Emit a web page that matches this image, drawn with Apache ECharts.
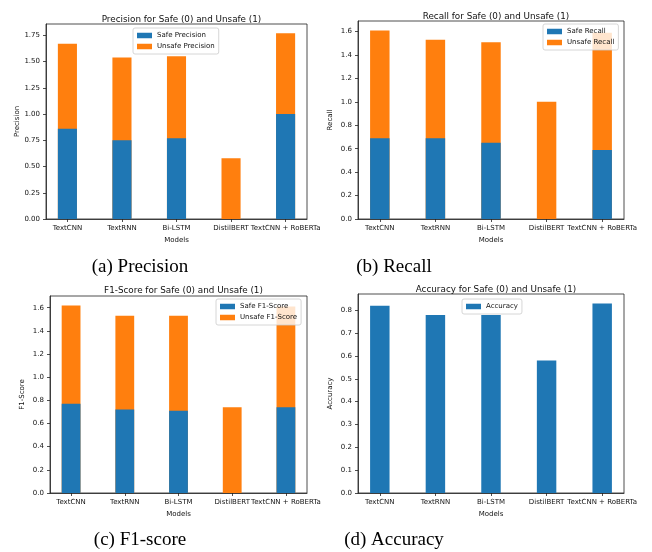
<!DOCTYPE html>
<html><head><meta charset="utf-8">
<script src="https://cdn.jsdelivr.net/npm/echarts@6/dist/echarts.min.js"></script>
<style>html,body{margin:0;padding:0;background:#fff}#c{width:652px;height:552px}</style>
</head><body><div id="c"></div>
<script>
const models = ['TextCNN', 'TextRNN', 'Bi-LSTM', 'DistilBERT', 'TextCNN + RoBERTa'];
const safePrecision = [0.86, 0.75, 0.77, 0.00, 1.00];
const unsafePrecision = [0.81, 0.79, 0.78, 0.58, 0.77];
const safeRecall = [0.69, 0.69, 0.65, 0.00, 0.59];
const unsafeRecall = [0.92, 0.84, 0.86, 1.00, 1.00];
const safeF1 = [0.77, 0.72, 0.71, 0.00, 0.74];
const unsafeF1 = [0.85, 0.81, 0.82, 0.74, 0.87];
const accuracy = [0.82, 0.78, 0.78, 0.58, 0.83];
const precisionTicks = [0, 0.25, 0.5, 0.75, 1.0, 1.25, 1.5, 1.75];
const recallTicks = [0, 0.2, 0.4, 0.6, 0.8, 1.0, 1.2, 1.4, 1.6];
const f1Ticks = [0, 0.2, 0.4, 0.6, 0.8, 1.0, 1.2, 1.4, 1.6];
const accTicks = [0, 0.1, 0.2, 0.3, 0.4, 0.5, 0.6, 0.7, 0.8];

const BLUE = '#1f77b4', ORANGE = '#ff7f0e';
const FONT = 'DejaVu Sans';
const TICKFS = 7;

function pairs(arr) { return arr.map((v, i) => [i, v]); }
function sums(a, b) { return a.map((v, i) => v + (b ? b[i] : 0)); }

const panels = [
  { grid: {left: 46, top: 24, width: 261, height: 195}, title: 'Precision for Safe (0) and Unsafe (1)', titleTop: 10,
    yName: 'Precision', ticks: precisionTicks, dec: 2, s1: safePrecision, s2: unsafePrecision,
    n1: 'Safe Precision', n2: 'Unsafe Precision', legend: {left: 133, top: 28}, caption: '(a) Precision', cx: 135, cy: 253 },
  { grid: {left: 358, top: 21, width: 266, height: 198}, title: 'Recall for Safe (0) and Unsafe (1)', titleTop: 7,
    yName: 'Recall', ticks: recallTicks, dec: 1, s1: safeRecall, s2: unsafeRecall,
    n1: 'Safe Recall', n2: 'Unsafe Recall', legend: {left: 543, top: 24}, caption: '(b) Recall', cx: 389, cy: 253 },
  { grid: {left: 50, top: 296, width: 257, height: 197}, title: 'F1-Score for Safe (0) and Unsafe (1)', titleTop: 281,
    yName: 'F1-Score', ticks: f1Ticks, dec: 1, s1: safeF1, s2: unsafeF1,
    n1: 'Safe F1-Score', n2: 'Unsafe F1-Score', legend: {left: 216, top: 299}, caption: '(c) F1-score', cx: 135, cy: 526 },
  { grid: {left: 358, top: 294, width: 266, height: 199}, title: 'Accuracy for Safe (0) and Unsafe (1)', titleTop: 280,
    yName: 'Accuracy', ticks: accTicks, dec: 1, s1: accuracy, s2: null,
    n1: 'Accuracy', n2: null, legend: {left: 462, top: 299}, caption: '(d) Accuracy', cx: 389, cy: 526 }
];

const option = { animation: false, backgroundColor: '#fff', textStyle: {fontFamily: FONT},
  title: [], grid: [], xAxis: [], yAxis: [], series: [], legend: [] };

panels.forEach((p, k) => {
  option.grid.push(Object.assign({ show: true, borderColor: '#222', borderWidth: 0.8, containLabel: false }, p.grid));
  option.title.push({ text: p.title, left: p.grid.left + p.grid.width / 2, top: p.titleTop, textAlign: 'center',
    textStyle: {fontFamily: FONT, fontSize: 8.8, fontWeight: 'normal', color: '#111'} });
  option.title.push({ text: p.caption, left: p.cx, top: p.cy, textAlign: 'center',
    textStyle: {fontFamily: 'Liberation Serif', fontSize: 19, fontWeight: 'normal', color: '#000'} });
  const xmin = -0.175 - 0.05 * 4.35, xmax = 4.175 + 0.05 * 4.35;
  option.xAxis.push({ type: 'value', gridIndex: k, min: xmin, max: xmax,
    name: 'Models', nameLocation: 'middle', nameGap: 18,
    nameTextStyle: {fontFamily: FONT, fontSize: TICKFS, color: '#111'},
    axisLine: {show: true, onZero: false, lineStyle: {color: '#222', width: 0.8}},
    axisTick: {show: true, length: 3, lineStyle: {color: '#222', width: 0.8}, customValues: [0, 1, 2, 3, 4]},
    axisLabel: {customValues: [0, 1, 2, 3, 4], fontFamily: FONT, fontSize: TICKFS, color: '#111', margin: 6,
      formatter: v => models[Math.round(v)]},
    splitLine: {show: false} });
  const totals = sums(p.s1, p.s2);
  const ymax = Math.max(...totals) * 1.05;
  option.yAxis.push({ type: 'value', gridIndex: k, min: 0, max: ymax,
    name: p.yName, nameLocation: 'middle', nameGap: 24,
    nameTextStyle: {fontFamily: FONT, fontSize: TICKFS, color: '#111'},
    axisLine: {show: true, onZero: false, lineStyle: {color: '#222', width: 0.8}},
    axisTick: {show: true, length: 3, lineStyle: {color: '#222', width: 0.8}, customValues: p.ticks},
    axisLabel: {customValues: p.ticks, fontFamily: FONT, fontSize: TICKFS, color: '#111', margin: 6,
      formatter: v => v.toFixed(p.dec)},
    splitLine: {show: false} });
  const bw = 0.35 * p.grid.width / (xmax - xmin);
  const legendData = [p.n1];
  if (p.s2) {
    // unsafe part stacked on top of safe: drawn as bar up to the total, safe bar drawn over it
    option.series.push({ type: 'bar', name: p.n2, xAxisIndex: k, yAxisIndex: k,
      barWidth: bw, barGap: '-100%', data: pairs(totals), itemStyle: {color: ORANGE}, z: 2 });
    legendData.push(p.n2);
  }
  option.series.push({ type: 'bar', name: p.n1, xAxisIndex: k, yAxisIndex: k,
    barWidth: bw, barGap: '-100%', data: pairs(p.s1), itemStyle: {color: BLUE}, z: 3 });
  option.legend.push(Object.assign({ data: legendData.map(n => ({name: n, icon: 'rect'})), orient: 'vertical',
    itemWidth: 15, itemHeight: 5.5, itemGap: 4, padding: [4, 4, 4, 4],
    backgroundColor: 'rgba(255,255,255,0.8)', borderColor: '#cccccc', borderWidth: 0.8, borderRadius: 2,
    textStyle: {fontFamily: FONT, fontSize: TICKFS, color: '#111'}, selectedMode: false, z: 10 }, p.legend));
});

const chart = echarts.init(document.getElementById('c'), null, {renderer: 'canvas'});
chart.setOption(option);
</script></body></html>
